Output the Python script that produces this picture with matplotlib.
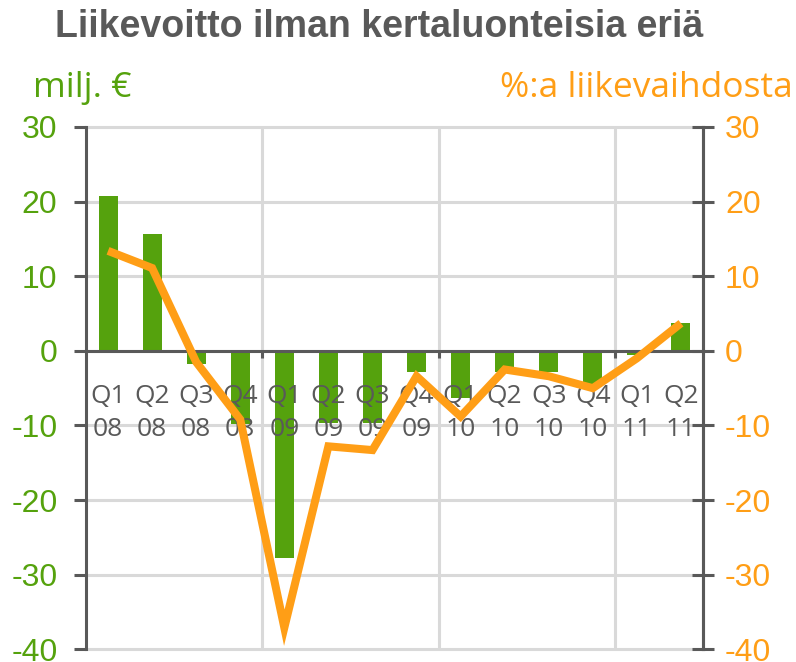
import matplotlib
matplotlib.use("Agg")
import matplotlib.pyplot as plt
from matplotlib.ticker import FixedLocator, NullFormatter

plt.rcParams["axes.unicode_minus"] = False

# Quarterly data
quarters = ["Q1", "Q2", "Q3", "Q4", "Q1", "Q2", "Q3", "Q4",
            "Q1", "Q2", "Q3", "Q4", "Q1", "Q2"]
years = ["08", "08", "08", "08", "09", "09", "09", "09",
         "10", "10", "10", "10", "11", "11"]
ebit_meur = [20.7, 15.7, -1.7, -9.8, -27.8, -9.7, -9.7, -2.8,
             -6.3, -2.8, -2.8, -4.8, -0.5, 3.7]
ebit_pct = [13.4, 11.1, -1.5, -9.2, -37.1, -12.8, -13.3, -3.4,
            -8.8, -2.5, -3.4, -5.0, -1.0, 3.7]
y_ticks = [30, 20, 10, 0, -10, -20, -30, -40]
year_bounds = [3.5, 7.5, 11.5]

GREEN = "#55A20D"
ORANGE = "#FF9E16"
DARK = "#595959"
GRID = "#D9D9D9"

fig = plt.figure(figsize=(7.96, 6.62), dpi=100)
ax = fig.add_axes([86 / 796, 1 - 649.3 / 662, 617 / 796, 522.3 / 662])

x = list(range(len(quarters)))

# gridlines drawn by hand so they stay under the bars
for yv in y_ticks:
    ax.axhline(yv, color=GRID, linewidth=2.2, zorder=0.5, clip_on=False)
for xv in year_bounds:
    ax.axvline(xv, color=GRID, linewidth=2.2, zorder=0.5)

ax.bar(x, ebit_meur, width=0.43, color=GREEN, zorder=2)
# axis (zero line and quarter labels) on top of the bars
ax.set_axisbelow(False)

ax.set_xlim(-0.5, len(quarters) - 0.5)
ax.set_ylim(-40, 30)
ax.set_yticks(y_ticks)

# year boundaries as major ticks, quarter labels on minor ticks
ax.xaxis.set_major_locator(FixedLocator(year_bounds))
ax.xaxis.set_major_formatter(NullFormatter())
ax.xaxis.set_minor_locator(FixedLocator(x))
ax.set_xticklabels([f"{q}\n{y}" for q, y in zip(quarters, years)], minor=True)

ax.spines["top"].set_visible(False)
ax.spines["bottom"].set_position(("data", 0))
for side in ("left", "right", "bottom"):
    ax.spines[side].set_color(DARK)
    ax.spines[side].set_linewidth(2.2)
    ax.spines[side].set_zorder(3)

ax.tick_params(axis="y", which="major", direction="out", length=8.6, width=2.2,
               color=DARK, labelsize=23, labelcolor=GREEN, pad=12)
ax.tick_params(axis="x", which="major", direction="out", length=5, width=2.2,
               color=DARK)
ax.tick_params(axis="x", which="minor", length=0, pad=24, labelsize=19,
               labelcolor=DARK)
for lbl in ax.get_yticklabels():
    lbl.set_fontfamily("Liberation Sans")
for lbl in ax.get_xticklabels(minor=True):
    lbl.set_fontfamily("Open Sans")
    lbl.set_linespacing(1.4)

ax2 = ax.twinx()
ax2.set_ylim(-40, 30)
ax2.set_yticks(y_ticks)
ax2.plot(x, ebit_pct, color=ORANGE, linewidth=5.8, solid_capstyle="butt",
         solid_joinstyle="miter", zorder=4)
for side in ("top", "bottom", "left"):
    ax2.spines[side].set_visible(False)
ax2.spines["right"].set_color(DARK)
ax2.spines["right"].set_linewidth(2.2)
ax2.tick_params(axis="y", direction="inout", length=15.8, width=2.2,
                color=DARK, labelsize=23, labelcolor=ORANGE, pad=8)
for lbl in ax2.get_yticklabels():
    lbl.set_fontfamily("Liberation Sans")

fig.text(379 / 796, 1 - 27 / 662, "Liikevoitto ilman kertaluonteisia eriä",
         ha="center", va="center", fontsize=27, fontweight="bold",
         color=DARK, family="Liberation Sans")
fig.text(33 / 796, 1 - 97 / 662, "milj. €", ha="left", va="baseline",
         fontsize=25.5, color=GREEN, family="Open Sans")
fig.text(793 / 796, 1 - 97 / 662, "%:a liikevaihdosta", ha="right",
         va="baseline", fontsize=25.5, color=ORANGE, family="Open Sans")

fig.savefig("out.png", dpi=100)
